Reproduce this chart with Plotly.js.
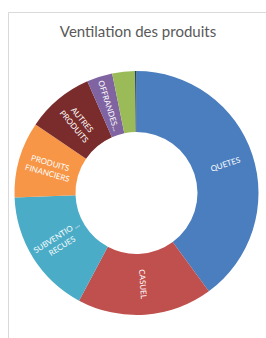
<!DOCTYPE html>
<html>
<head>
<meta charset="utf-8">
<script src="https://cdn.plot.ly/plotly-3.0.1.min.js"></script>
<style>
html,body{margin:0;padding:0;background:#fff;}
#chart{width:266px;height:338px;}
</style>
</head>
<body>
<div id="chart"></div>
<script>
const categories = ['QUETES', 'CASUEL', 'SUBVENTIONS RECUES', 'PRODUITS FINANCIERS', 'AUTRES PRODUITS', 'OFFRANDES', 'DIVERS', 'AUTRES'];
const sliceLabels = ['QUETES', 'CASUEL', 'SUBVENTIO ...<br>RECUES', 'PRODUITS<br>FINANCIERS', 'AUTRES<br>PRODUITS', 'OFFRANDES...', '', ''];
const values = [39.9, 17.9, 16.6, 10.1, 8.9, 3.4, 3.0, 0.2];
const colors = ['#4a7ebf', '#c0504d', '#4aacc6', '#f79646', '#7a2b2b', '#8064a2', '#9bbb59', '#1f3f6e'];

const W = 266, H = 338;
const cx = 136.5, cy = 193, r = 122, holeFrac = 0.5;
const labelFont = {family: 'Lato, "Open Sans", sans-serif', size: 8, color: '#ffffff'};

// Plotly's radial text prefers horizontal placement for slices crossing 3/9 o'clock;
// the first slice's label is placed at its mid-angle instead (computed from the data).
const total = values.reduce((a, b) => a + b, 0);
const midDeg = values[0] / total * 360 / 2;
const midRad = midDeg * Math.PI / 180;
const labelR = r * (1 + holeFrac) / 2 + 2;
const annX = (cx + labelR * Math.sin(midRad)) / W;
const annY = 1 - (cy - labelR * Math.cos(midRad)) / H;

const traceText = sliceLabels.map((t, i) => i === 0 ? '' : t);

const trace = {
  type: 'pie',
  labels: categories,
  values: values,
  text: traceText,
  textinfo: 'text',
  textposition: 'inside',
  insidetextorientation: 'radial',
  textfont: labelFont,
  hole: holeFrac,
  sort: false,
  direction: 'clockwise',
  rotation: 0,
  marker: {colors: colors, line: {width: 0}},
  domain: {x: [(cx - r) / W, (cx + r) / W], y: [1 - (cy + r) / H, 1 - (cy - r) / H]},
  showlegend: false,
  hoverinfo: 'label+value'
};

const layout = {
  width: W, height: H,
  margin: {l: 0, r: 0, t: 0, b: 0},
  paper_bgcolor: '#ffffff',
  title: {
    text: 'Ventilation des produits',
    font: {family: 'Lato, "Open Sans", sans-serif', size: 15, color: '#595959'},
    x: 138 / W, xanchor: 'center',
    y: 1 - 32 / H, yanchor: 'middle'
  },
  annotations: [{
    xref: 'paper', yref: 'paper', x: annX, y: annY,
    xanchor: 'center', yanchor: 'middle',
    text: sliceLabels[0], showarrow: false,
    textangle: midDeg - 90, font: labelFont
  }],
  shapes: [
    {type: 'line', xref: 'paper', yref: 'paper', x0: 8.5 / W, x1: 8.5 / W, y0: 0, y1: 1 - 12.5 / H, line: {color: '#d9d9d9', width: 1}},
    {type: 'line', xref: 'paper', yref: 'paper', x0: 8.5 / W, x1: 1, y0: 1 - 12.5 / H, y1: 1 - 12.5 / H, line: {color: '#d9d9d9', width: 1}}
  ]
};

Plotly.newPlot('chart', [trace], layout, {displayModeBar: false, staticPlot: true});
</script>
</body>
</html>
